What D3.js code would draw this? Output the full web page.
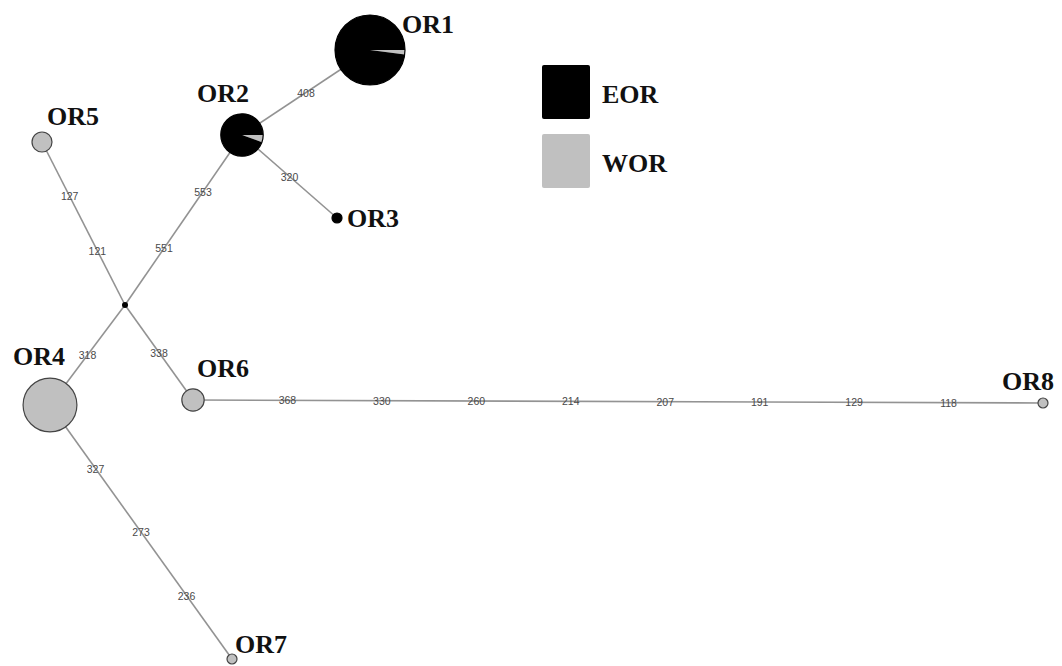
<!DOCTYPE html>
<html>
<head>
<meta charset="utf-8">
<script src="https://cdn.jsdelivr.net/npm/d3@7"></script>
<style>
  body { margin: 0; background: #fff; }
  svg { display: block; }
</style>
</head>
<body>
<script>
// haplotypes and their sample counts per group
const haplotypes = ["OR1", "OR2", "OR3", "OR4", "OR5", "OR6", "OR7", "OR8"];
const eorCounts = [48, 17, 1, 0, 0, 0, 0, 0];
const worCounts = [1, 1, 0, 29, 4, 5, 1, 1];
const groups = ["EOR", "WOR"];

// network edges (source, target) and the mutated positions along each edge
// "MV" is the unsampled median vector
const edgeSource = ["OR1", "OR2", "OR2", "MV", "MV", "MV", "OR6", "OR4"];
const edgeTarget = ["OR2", "OR3", "MV", "OR5", "OR4", "OR6", "OR8", "OR7"];
const edgeMutations = [
  [408],
  [320],
  [553, 551],
  [121, 127],
  [318],
  [338],
  [368, 330, 260, 214, 207, 191, 129, 118],
  [327, 273, 236]
];

// layout of the network (layout units)
const layoutNames = ["OR1", "OR2", "OR3", "OR4", "OR5", "OR6", "OR7", "OR8", "MV"];
const layoutX = [370, 242, 337, 50, 42, 193, 232, 1043, 125];
const layoutY = [50, 135, 218, 405, 142, 400, 659, 403, 305];
const labelX = [402, 197, 347, 13, 47, 197, 235, 1002];
const labelY = [33, 102, 227, 365, 125, 377, 653, 390];

const width = 1062;
const height = 666;

const x = d3.scaleLinear().domain([0, 1062]).range([0, width]);
const y = d3.scaleLinear().domain([0, 666]).range([0, height]);
const r = d3.scaleSqrt().domain([0, 1]).range([0, 5]);
const color = d3.scaleOrdinal().domain(groups).range(["#000000", "#c0c0c0"]);

const pos = {};
layoutNames.forEach((n, i) => (pos[n] = [x(layoutX[i]), y(layoutY[i])]));

const svg = d3
  .select("body")
  .append("svg")
  .attr("width", width)
  .attr("height", height);

svg.append("rect").attr("width", width).attr("height", height).attr("fill", "#fff");

// edges
const edges = edgeSource.map((s, i) => ({
  s: pos[s],
  t: pos[edgeTarget[i]],
  muts: edgeMutations[i]
}));

svg
  .append("g")
  .selectAll("line")
  .data(edges)
  .join("line")
  .attr("x1", (d) => d.s[0])
  .attr("y1", (d) => d.s[1])
  .attr("x2", (d) => d.t[0])
  .attr("y2", (d) => d.t[1])
  .attr("stroke", "#939393")
  .attr("stroke-width", 1.6);

// mutation labels, evenly spaced along the edge
const mutLabels = [];
edges.forEach((e) => {
  const n = e.muts.length;
  e.muts.forEach((m, j) => {
    const p = d3.interpolate(e.s, e.t)((j + 1) / (n + 1));
    mutLabels.push({ m, p });
  });
});

svg
  .append("g")
  .selectAll("text")
  .data(mutLabels)
  .join("text")
  .attr("x", (d) => d.p[0])
  .attr("y", (d) => d.p[1] + 4)
  .attr("text-anchor", "middle")
  .attr("font-family", "Liberation Sans, Arial, sans-serif")
  .attr("font-size", "10.5px")
  .attr("fill", "#4a4a4a")
  .text((d) => d.m);

// median vector
svg
  .append("circle")
  .attr("cx", pos.MV[0])
  .attr("cy", pos.MV[1])
  .attr("r", 3)
  .attr("fill", "#000");

// haplotype pies
const pie = d3
  .pie()
  .sort(null)
  .startAngle(Math.PI / 2)
  .endAngle(Math.PI / 2 + 2 * Math.PI);

const nodes = haplotypes.map((h, i) => ({
  name: h,
  vals: [
    { g: "WOR", v: worCounts[i] },
    { g: "EOR", v: eorCounts[i] }
  ],
  total: worCounts[i] + eorCounts[i],
  p: pos[h]
}));

const nodeG = svg
  .append("g")
  .selectAll("g")
  .data(nodes)
  .join("g")
  .attr("transform", (d) => `translate(${d.p[0]},${d.p[1]})`);

nodeG.each(function (d) {
  const g = d3.select(this);
  const rad = r(d.total);
  const arc = d3.arc().innerRadius(0).outerRadius(rad);
  g.selectAll("path")
    .data(pie.value((v) => v.v)(d.vals).filter((a) => a.value > 0))
    .join("path")
    .attr("d", arc)
    .attr("fill", (a) => color(a.data.g));
  g.append("circle")
    .attr("r", rad)
    .attr("fill", "none")
    .attr("stroke", eorCounts[haplotypes.indexOf(d.name)] > 0 ? "#000" : "#444")
    .attr("stroke-width", 1.2);
});

// haplotype names
svg
  .append("g")
  .selectAll("text")
  .data(haplotypes)
  .join("text")
  .attr("x", (d, i) => x(labelX[i]))
  .attr("y", (d, i) => y(labelY[i]))
  .attr("font-family", "Liberation Serif, Times New Roman, serif")
  .attr("font-weight", "bold")
  .attr("font-size", "26px")
  .attr("fill", "#111")
  .text((d) => d);

// legend
const legend = svg
  .append("g")
  .selectAll("g")
  .data(groups)
  .join("g")
  .attr("transform", (d, i) => `translate(542,${65 + i * 69})`);

legend
  .append("rect")
  .attr("width", 48)
  .attr("height", 54)
  .attr("rx", 2)
  .attr("fill", (d) => color(d));

legend
  .append("text")
  .attr("x", 60)
  .attr("y", 38)
  .attr("font-family", "Liberation Serif, Times New Roman, serif")
  .attr("font-weight", "bold")
  .attr("font-size", "26px")
  .attr("fill", "#111")
  .text((d) => d);
</script>
</body>
</html>
